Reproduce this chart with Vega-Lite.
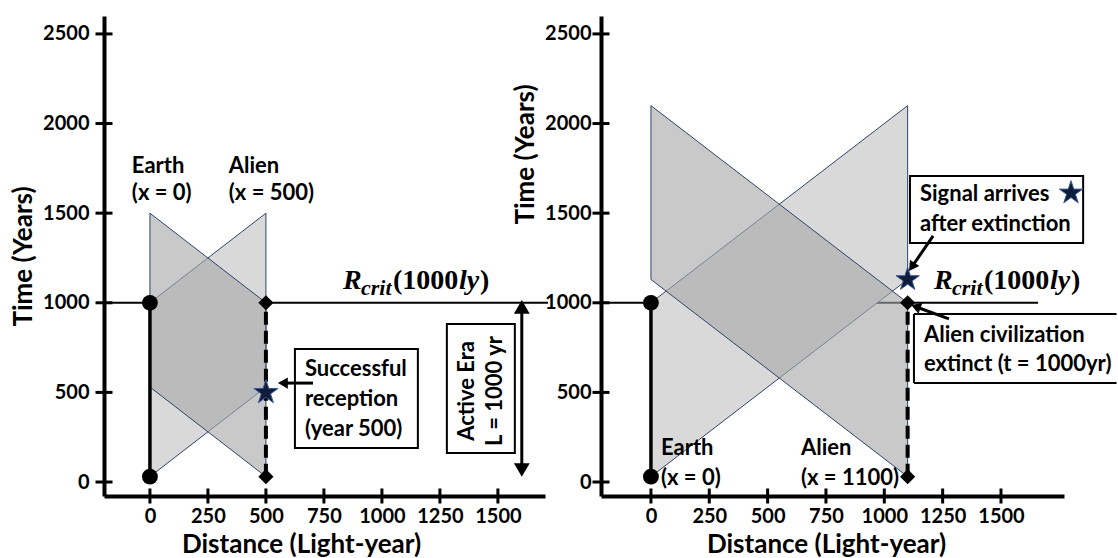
{
  "$schema": "https://vega.github.io/schema/vega-lite/v6.json",
  "padding": {"left": 10, "top": 16, "right": 0, "bottom": 0},
  "background": "white",
  "bounds": "flush",
  "spacing": 56,
  "config": {
    "view": {"stroke": null},
    "axis": {"domainColor": "black", "domainWidth": 4, "ticks": false, "labelFont": "Lato", "labelFontSize": 20, "labelFontWeight": "bold", "labelColor": "black", "titleFont": "Lato", "titleFontSize": 26, "titleFontWeight": "bold", "titleColor": "black", "grid": false, "labelFlush": false, "labelOverlap": false, "format": "d"},
    "text": {"font": "Lato", "fontWeight": "bold", "fontSize": 22, "color": "black"},
    "tick": {"color": "black", "opacity": 1}
  },
  "hconcat": [
    {
      "width": 441, "height": 480,
      "resolve": {"axis": {"x": "independent", "y": "independent"}},
      "encoding": {
        "x": {"field": "x", "type": "quantitative", "scale": {"domain": [-198, 1703], "nice": false, "zero": false}, "axis": null},
        "y": {"field": "y", "type": "quantitative", "scale": {"domain": [-78, 2600], "nice": false, "zero": false}, "axis": null}
      },
      "layer": [
        {
          "data": {"values": [{"x": -198, "x2": 1716, "y": 1000}]},
          "mark": {"type": "rule", "color": "black", "strokeWidth": 2},
          "encoding": {
            "x": {"field": "x", "type": "quantitative", "scale": {"domain": [-198, 1703], "nice": false, "zero": false}, "axis": {"orient": "bottom", "values": [0, 250, 500, 750, 1000, 1250, 1500], "format": "d", "title": "Distance (Light-year)", "titleX": 197, "labelPadding": 10, "titlePadding": 5}},
            "x2": {"field": "x2"},
            "y": {"field": "y", "type": "quantitative", "scale": {"domain": [-78, 2600], "nice": false, "zero": false}, "axis": {"orient": "left", "values": [0, 500, 1000, 1500, 2000, 2500], "format": "d", "title": "Time (Years)", "labelPadding": 15, "titlePadding": 6}}
          }
        },
        {
          "data": {"values": [{"x": -198, "y": 0}, {"x": -198, "y": 500}, {"x": -198, "y": 1000}, {"x": -198, "y": 1500}, {"x": -198, "y": 2000}, {"x": -198, "y": 2500}]},
          "mark": {"type": "tick", "orient": "horizontal", "size": 17, "thickness": 3}
        },
        {
          "data": {"values": [{"x": 0, "y": -78}, {"x": 250, "y": -78}, {"x": 500, "y": -78}, {"x": 750, "y": -78}, {"x": 1000, "y": -78}, {"x": 1250, "y": -78}, {"x": 1500, "y": -78}]},
          "mark": {"type": "tick", "orient": "vertical", "size": 15, "thickness": 3}
        },
        {
          "data": {"values": [{"x": 0, "y": 1000, "y2": 30}, {"x": 500, "y": 1500, "y2": 530}]},
          "mark": {"type": "area", "fill": "#d9d9d9", "fillOpacity": 1, "stroke": "#2f4468", "strokeWidth": 1},
          "encoding": {"y2": {"field": "y2"}}
        },
        {
          "data": {"values": [{"x": 0, "y": 1500, "y2": 530}, {"x": 500, "y": 1000, "y2": 30}]},
          "mark": {"type": "area", "fill": "#a8a8a8", "fillOpacity": 0.62, "stroke": "#2f4468", "strokeWidth": 1},
          "encoding": {"y2": {"field": "y2"}}
        },
        {
          "data": {"values": [{"x": 0, "y": 30, "y2": 1000}]},
          "mark": {"type": "rule", "color": "black", "strokeWidth": 3.5},
          "encoding": {"y2": {"field": "y2"}}
        },
        {
          "data": {"values": [{"x": 500, "y": 30, "y2": 1000}]},
          "mark": {"type": "rule", "color": "black", "strokeWidth": 4, "strokeDash": [13, 6]},
          "encoding": {"y2": {"field": "y2"}}
        },
        {
          "data": {"values": [{"x": 0, "y": 30}, {"x": 0, "y": 1000}]},
          "mark": {"type": "point", "shape": "circle", "filled": true, "color": "black", "opacity": 1, "size": 250}
        },
        {
          "data": {"values": [{"x": 500, "y": 30}, {"x": 500, "y": 1000}]},
          "mark": {"type": "point", "shape": "diamond", "filled": true, "color": "black", "opacity": 1, "size": 230}
        },
        {
          "data": {"values": [{"x": 500, "y": 500}]},
          "mark": {"type": "point", "shape": "M0,-1L0.2245,-0.309L0.951,-0.309L0.363,0.118L0.588,0.809L0,0.382L-0.588,0.809L-0.363,0.118L-0.951,-0.309L-0.2245,-0.309Z", "filled": true, "fill": "#0f1d3a", "stroke": "#3a5a9a", "strokeWidth": 1, "opacity": 1, "size": 650}
        },
        {
          "data": {"values": [{"x": 625, "x2": 1155, "y": 190, "y2": 742}, {"x": 1280, "x2": 1573, "y": 162, "y2": 882}]},
          "mark": {"type": "rect", "fill": "white", "stroke": "black", "strokeWidth": 2},
          "encoding": {"x2": {"field": "x2"}, "y2": {"field": "y2"}}
        },
        {
          "data": {"values": [{"x": 703, "x2": 573, "y": 552, "y2": 552}, {"x": 1603, "x2": 1603, "y": 977, "y2": 67}]},
          "mark": {"type": "rule", "color": "black", "strokeWidth": 3},
          "encoding": {"x2": {"field": "x2"}, "y2": {"field": "y2"}}
        },
        {
          "data": {"values": [{"x": 573, "y": 552}]},
          "mark": {"type": "point", "shape": "triangle-left", "filled": true, "color": "black", "opacity": 1, "size": 130}
        },
        {
          "data": {"values": [{"x": 1603, "y": 977}]},
          "mark": {"type": "point", "shape": "triangle-up", "filled": true, "color": "black", "opacity": 1, "size": 250}
        },
        {
          "data": {"values": [{"x": 1603, "y": 67}]},
          "mark": {"type": "point", "shape": "triangle-down", "filled": true, "color": "black", "opacity": 1, "size": 250}
        },
        {
          "data": {"values": [
            {"x": -78, "y": 1763, "label": "Earth"},
            {"x": -78, "y": 1613, "label": "(x = 0)"},
            {"x": 340, "y": 1763, "label": "Alien"},
            {"x": 340, "y": 1613, "label": "(x = 500)"},
            {"x": 668, "y": 631, "label": "Successful"},
            {"x": 668, "y": 463, "label": "reception"},
            {"x": 668, "y": 296, "label": "(year 500)"}
          ]},
          "mark": {"type": "text", "align": "left", "baseline": "middle"},
          "encoding": {"text": {"field": "label"}}
        },
        {
          "data": {"values": [
            {"x": 1366, "y": 508, "label": "Active Era"},
            {"x": 1487, "y": 508, "label": "L = 1000 yr"}
          ]},
          "mark": {"type": "text", "align": "center", "baseline": "middle", "angle": 270},
          "encoding": {"text": {"field": "label"}}
        },
        {
          "data": {"values": [{"x": 832, "y": 1122}]},
          "layer": [
            {"mark": {"type": "text", "text": "R", "font": "Liberation Serif", "fontStyle": "italic", "fontWeight": "bold", "fontSize": 28, "align": "left", "baseline": "middle"}},
            {"mark": {"type": "text", "text": "crit", "font": "Liberation Serif", "fontStyle": "italic", "fontWeight": "bold", "fontSize": 22, "align": "left", "baseline": "middle", "dx": 18, "dy": 7}},
            {"mark": {"type": "text", "text": "(1000", "font": "Liberation Serif", "fontStyle": "normal", "fontWeight": "bold", "fontSize": 28, "align": "left", "baseline": "middle", "dx": 50}},
            {"mark": {"type": "text", "text": "ly", "font": "Liberation Serif", "fontStyle": "italic", "fontWeight": "bold", "fontSize": 28, "align": "left", "baseline": "middle", "dx": 116}},
            {"mark": {"type": "text", "text": ")", "font": "Liberation Serif", "fontStyle": "normal", "fontWeight": "bold", "fontSize": 28, "align": "left", "baseline": "middle", "dx": 137}}
          ]
        }
      ]
    },
    {
      "width": 463, "height": 480,
      "resolve": {"axis": {"x": "independent", "y": "independent"}},
      "encoding": {
        "x": {"field": "x", "type": "quantitative", "scale": {"domain": [-214, 1770], "nice": false, "zero": false}, "axis": null},
        "y": {"field": "y", "type": "quantitative", "scale": {"domain": [-78, 2600], "nice": false, "zero": false}, "axis": null}
      },
      "layer": [
        {
          "data": {"values": [{"x": -214, "x2": 1659, "y": 1000}]},
          "mark": {"type": "rule", "color": "black", "strokeWidth": 2},
          "encoding": {
            "x": {"field": "x", "type": "quantitative", "scale": {"domain": [-214, 1770], "nice": false, "zero": false}, "axis": {"orient": "bottom", "values": [0, 250, 500, 750, 1000, 1250, 1500], "format": "d", "title": "Distance (Light-year)", "titleX": 225, "labelPadding": 10, "titlePadding": 5}},
            "x2": {"field": "x2"},
            "y": {"field": "y", "type": "quantitative", "scale": {"domain": [-78, 2600], "nice": false, "zero": false}, "axis": {"orient": "left", "values": [0, 500, 1000, 1500, 2000, 2500], "format": "d", "title": "Time (Years)", "titleY": 138, "labelPadding": 10, "titlePadding": 6}}
          }
        },
        {
          "data": {"values": [{"x": -214, "y": 0}, {"x": -214, "y": 500}, {"x": -214, "y": 1000}, {"x": -214, "y": 1500}, {"x": -214, "y": 2000}, {"x": -214, "y": 2500}]},
          "mark": {"type": "tick", "orient": "horizontal", "size": 17, "thickness": 3}
        },
        {
          "data": {"values": [{"x": 0, "y": -78}, {"x": 250, "y": -78}, {"x": 500, "y": -78}, {"x": 750, "y": -78}, {"x": 1000, "y": -78}, {"x": 1250, "y": -78}, {"x": 1500, "y": -78}]},
          "mark": {"type": "tick", "orient": "vertical", "size": 15, "thickness": 3}
        },
        {
          "data": {"values": [{"x": 0, "y": 1000, "y2": 30}, {"x": 1100, "y": 2100, "y2": 1130}]},
          "mark": {"type": "area", "fill": "#d9d9d9", "fillOpacity": 1, "stroke": "#2f4468", "strokeWidth": 1},
          "encoding": {"y2": {"field": "y2"}}
        },
        {
          "data": {"values": [{"x": 0, "y": 2100, "y2": 1130}, {"x": 1100, "y": 1000, "y2": 30}]},
          "mark": {"type": "area", "fill": "#a8a8a8", "fillOpacity": 0.62, "stroke": "#2f4468", "strokeWidth": 1},
          "encoding": {"y2": {"field": "y2"}}
        },
        {
          "data": {"values": [{"x": 0, "y": 30, "y2": 1000}]},
          "mark": {"type": "rule", "color": "black", "strokeWidth": 3.5},
          "encoding": {"y2": {"field": "y2"}}
        },
        {
          "data": {"values": [{"x": 1100, "y": 30, "y2": 1000}]},
          "mark": {"type": "rule", "color": "black", "strokeWidth": 4, "strokeDash": [13, 6]},
          "encoding": {"y2": {"field": "y2"}}
        },
        {
          "data": {"values": [{"x": 0, "y": 30}, {"x": 0, "y": 1000}]},
          "mark": {"type": "point", "shape": "circle", "filled": true, "color": "black", "opacity": 1, "size": 250}
        },
        {
          "data": {"values": [{"x": 1100, "y": 30}, {"x": 1100, "y": 1000}]},
          "mark": {"type": "point", "shape": "diamond", "filled": true, "color": "black", "opacity": 1, "size": 230}
        },
        {
          "data": {"values": [{"x": 1110, "x2": 1852, "y": 1334, "y2": 1708}]},
          "mark": {"type": "rect", "fill": "white", "stroke": "black", "strokeWidth": 2},
          "encoding": {"x2": {"field": "x2"}, "y2": {"field": "y2"}}
        },
        {
          "data": {"values": [{"x": 1127, "x2": 1995, "y": 552, "y2": 552}, {"x": 1127, "x2": 1995, "y": 937, "y2": 937}, {"x": 1127, "x2": 1127, "y": 552, "y2": 937}]},
          "mark": {"type": "rule", "color": "black", "strokeWidth": 2},
          "encoding": {"x2": {"field": "x2"}, "y2": {"field": "y2"}}
        },
        {
          "data": {"values": [{"x": 1100, "y": 1130}, {"x": 1800, "y": 1613}]},
          "mark": {"type": "point", "shape": "M0,-1L0.2245,-0.309L0.951,-0.309L0.363,0.118L0.588,0.809L0,0.382L-0.588,0.809L-0.363,0.118L-0.951,-0.309L-0.2245,-0.309Z", "filled": true, "fill": "#0f1d3a", "stroke": "#3a5a9a", "strokeWidth": 1, "opacity": 1, "size": 600}
        },
        {
          "data": {"values": [{"x": 1209, "x2": 1118, "y": 1373, "y2": 1200}, {"x": 1277, "x2": 1135, "y": 910, "y2": 978}]},
          "mark": {"type": "rule", "color": "black", "strokeWidth": 3},
          "encoding": {"x2": {"field": "x2"}, "y2": {"field": "y2"}}
        },
        {
          "data": {"values": [{"x": 1118, "y": 1200}]},
          "mark": {"type": "point", "shape": "triangle-up", "angle": 214, "filled": true, "color": "black", "opacity": 1, "size": 130}
        },
        {
          "data": {"values": [{"x": 1135, "y": 978}]},
          "mark": {"type": "point", "shape": "triangle-up", "angle": 290, "filled": true, "color": "black", "opacity": 1, "size": 130}
        },
        {
          "data": {"values": [
            {"x": 43, "y": 190, "label": "Earth"},
            {"x": 43, "y": 22, "label": "(x = 0)"},
            {"x": 643, "y": 190, "label": "Alien"},
            {"x": 643, "y": 22, "label": "(x = 1100)"},
            {"x": 1153, "y": 1607, "label": "Signal arrives"},
            {"x": 1153, "y": 1440, "label": "after extinction"},
            {"x": 1170, "y": 820, "label": "Alien civilization"},
            {"x": 1170, "y": 658, "label": "extinct (t = 1000yr)"}
          ]},
          "mark": {"type": "text", "align": "left", "baseline": "middle"},
          "encoding": {"text": {"field": "label"}}
        },
        {
          "data": {"values": [{"x": 1213, "y": 1122}]},
          "layer": [
            {"mark": {"type": "text", "text": "R", "font": "Liberation Serif", "fontStyle": "italic", "fontWeight": "bold", "fontSize": 28, "align": "left", "baseline": "middle"}},
            {"mark": {"type": "text", "text": "crit", "font": "Liberation Serif", "fontStyle": "italic", "fontWeight": "bold", "fontSize": 22, "align": "left", "baseline": "middle", "dx": 18, "dy": 7}},
            {"mark": {"type": "text", "text": "(1000", "font": "Liberation Serif", "fontStyle": "normal", "fontWeight": "bold", "fontSize": 28, "align": "left", "baseline": "middle", "dx": 50}},
            {"mark": {"type": "text", "text": "ly", "font": "Liberation Serif", "fontStyle": "italic", "fontWeight": "bold", "fontSize": 28, "align": "left", "baseline": "middle", "dx": 116}},
            {"mark": {"type": "text", "text": ")", "font": "Liberation Serif", "fontStyle": "normal", "fontWeight": "bold", "fontSize": 28, "align": "left", "baseline": "middle", "dx": 137}}
          ]
        }
      ]
    }
  ]
}
